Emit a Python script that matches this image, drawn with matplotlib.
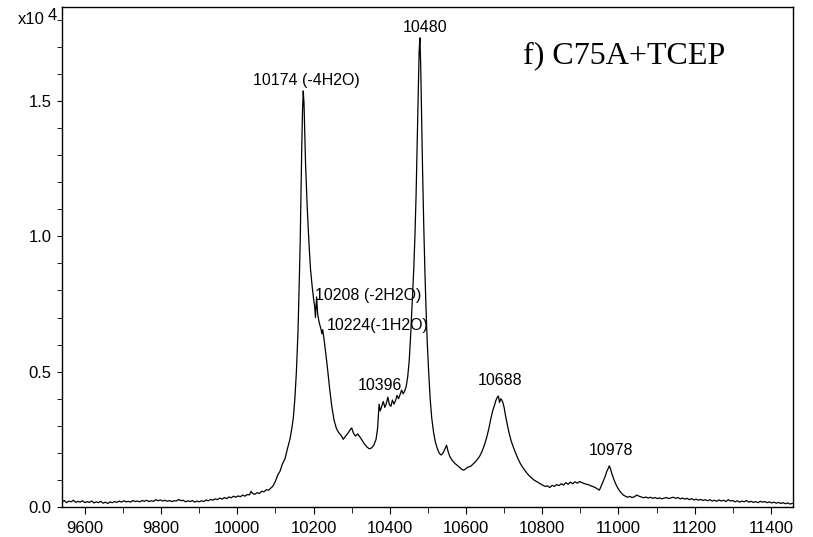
import matplotlib
matplotlib.use("Agg")
import matplotlib.pyplot as plt
from matplotlib.ticker import MultipleLocator, FormatStrFormatter

# deconvoluted mass spectrum, intensity in units of 1e4
mz = [
    9540, 9546, 9552, 9558, 9564, 9570, 9576, 9582, 9588, 9594,
    9600, 9606, 9612, 9618, 9624, 9630, 9636, 9642, 9648, 9654,
    9660, 9666, 9672, 9678, 9684, 9690, 9696, 9702, 9708, 9714,
    9720, 9726, 9732, 9738, 9744, 9750, 9756, 9762, 9768, 9774,
    9780, 9786, 9792, 9798, 9804, 9810, 9816, 9822, 9828, 9834,
    9840, 9846, 9852, 9858, 9864, 9870, 9876, 9882, 9888, 9894,
    9900, 9906, 9912, 9918, 9924, 9930, 9936, 9942, 9948, 9954,
    9960, 9966, 9972, 9978, 9984, 9990, 9996, 10002, 10008, 10014,
    10020, 10026, 10032, 10036, 10040, 10046, 10052, 10058, 10064, 10070,
    10076, 10082, 10088, 10093, 10100, 10106, 10112, 10118, 10125, 10132,
    10138, 10143, 10147, 10151, 10155, 10159, 10162, 10165, 10167, 10169,
    10171, 10173, 10175, 10177, 10179, 10181, 10183, 10186, 10189, 10192,
    10196, 10200, 10203, 10205, 10208, 10211, 10215, 10219, 10222, 10224,
    10227, 10231, 10236, 10242, 10248, 10254, 10260, 10266, 10272, 10278,
    10284, 10290, 10296, 10300, 10305, 10310, 10316, 10322, 10328, 10334,
    10340, 10346, 10352, 10358, 10364, 10368, 10372, 10375, 10379, 10383,
    10387, 10391, 10395, 10399, 10403, 10407, 10411, 10415, 10419, 10423,
    10427, 10431, 10435, 10439, 10443, 10447, 10451, 10455, 10459, 10463,
    10466, 10469, 10472, 10475, 10477, 10479, 10481, 10483, 10486, 10489,
    10492, 10495, 10498, 10502, 10506, 10510, 10515, 10520, 10525, 10530,
    10535, 10540, 10545, 10549, 10553, 10558, 10564, 10570, 10576, 10582,
    10588, 10594, 10600, 10606, 10612, 10618, 10624, 10630, 10636, 10642,
    10648, 10654, 10660, 10665, 10670, 10674, 10678, 10682, 10685, 10688,
    10691, 10694, 10697, 10700, 10704, 10709, 10714, 10719, 10724, 10730,
    10736, 10742, 10748, 10754, 10760, 10766, 10772, 10778, 10784, 10790,
    10796, 10802, 10808, 10814, 10820, 10826, 10832, 10838, 10844, 10850,
    10856, 10862, 10868, 10874, 10880, 10886, 10892, 10898, 10904, 10910,
    10916, 10922, 10928, 10934, 10940, 10946, 10950, 10955, 10960, 10965,
    10969, 10973, 10976, 10978, 10981, 10984, 10988, 10992, 10996, 11000,
    11005, 11010, 11014, 11018, 11024, 11030, 11036, 11042, 11048, 11054,
    11060, 11066, 11072, 11078, 11084, 11090, 11096, 11102, 11108, 11114,
    11120, 11126, 11132, 11138, 11144, 11150, 11156, 11162, 11168, 11174,
    11180, 11186, 11192, 11198, 11204, 11210, 11216, 11222, 11228, 11234,
    11240, 11246, 11252, 11258, 11264, 11270, 11276, 11282, 11288, 11294,
    11300, 11306, 11312, 11318, 11324, 11330, 11336, 11342, 11348, 11354,
    11360, 11366, 11372, 11378, 11384, 11390, 11396, 11402, 11408, 11414,
    11420, 11426, 11432, 11438, 11444, 11450, 11456,
]
intensity = [
    0.018, 0.024, 0.016, 0.022, 0.019, 0.025, 0.017, 0.021, 0.018, 0.023,
    0.016, 0.020, 0.017, 0.022, 0.015, 0.019, 0.016, 0.021, 0.014, 0.018,
    0.013, 0.019, 0.016, 0.020, 0.017, 0.022, 0.018, 0.023, 0.019, 0.021,
    0.018, 0.024, 0.020, 0.022, 0.019, 0.024, 0.021, 0.025, 0.020, 0.023,
    0.021, 0.027, 0.023, 0.026, 0.022, 0.025, 0.021, 0.024, 0.020, 0.023,
    0.022, 0.028, 0.023, 0.025, 0.019, 0.023, 0.020, 0.024, 0.018, 0.022,
    0.019, 0.023, 0.020, 0.026, 0.023, 0.028, 0.025, 0.030, 0.027, 0.033,
    0.029, 0.035, 0.031, 0.037, 0.034, 0.040, 0.036, 0.041, 0.038, 0.044,
    0.040, 0.046, 0.045, 0.058, 0.050, 0.047, 0.053, 0.050, 0.058, 0.056,
    0.064, 0.062, 0.070, 0.076, 0.095, 0.118, 0.132, 0.158, 0.178, 0.218,
    0.250, 0.290, 0.330, 0.400, 0.500, 0.640, 0.800, 0.980, 1.150, 1.320,
    1.460, 1.537, 1.490, 1.380, 1.270, 1.190, 1.120, 1.030, 0.950, 0.880,
    0.820, 0.770, 0.740, 0.700, 0.776, 0.710, 0.680, 0.660, 0.640, 0.655,
    0.625, 0.580, 0.520, 0.440, 0.370, 0.320, 0.290, 0.275, 0.265, 0.250,
    0.262, 0.272, 0.285, 0.292, 0.272, 0.262, 0.270, 0.258, 0.245, 0.232,
    0.222, 0.215, 0.218, 0.228, 0.250, 0.290, 0.380, 0.355, 0.372, 0.390,
    0.368, 0.382, 0.406, 0.378, 0.372, 0.395, 0.380, 0.392, 0.412, 0.400,
    0.415, 0.432, 0.418, 0.428, 0.445, 0.480, 0.540, 0.640, 0.760, 0.880,
    1.000, 1.150, 1.350, 1.550, 1.680, 1.733, 1.640, 1.480, 1.250, 1.050,
    0.880, 0.740, 0.620, 0.500, 0.400, 0.330, 0.275, 0.238, 0.215, 0.198,
    0.192, 0.200, 0.215, 0.228, 0.205, 0.185, 0.172, 0.162, 0.155, 0.148,
    0.140, 0.136, 0.142, 0.148, 0.150, 0.158, 0.166, 0.176, 0.188, 0.205,
    0.228, 0.255, 0.290, 0.325, 0.355, 0.372, 0.392, 0.405, 0.410, 0.386,
    0.400, 0.395, 0.385, 0.368, 0.335, 0.300, 0.268, 0.242, 0.222, 0.200,
    0.180, 0.162, 0.148, 0.136, 0.125, 0.115, 0.108, 0.100, 0.095, 0.090,
    0.085, 0.080, 0.076, 0.078, 0.072, 0.080, 0.076, 0.083, 0.079, 0.086,
    0.081, 0.090, 0.084, 0.092, 0.086, 0.093, 0.088, 0.094, 0.090, 0.087,
    0.084, 0.082, 0.078, 0.075, 0.071, 0.066, 0.062, 0.078, 0.095, 0.112,
    0.130, 0.142, 0.152, 0.146, 0.132, 0.118, 0.102, 0.088, 0.076, 0.066,
    0.056, 0.048, 0.043, 0.040, 0.036, 0.039, 0.035, 0.038, 0.044, 0.040,
    0.037, 0.034, 0.037, 0.033, 0.036, 0.032, 0.035, 0.031, 0.034, 0.030,
    0.033, 0.035, 0.031, 0.034, 0.036, 0.032, 0.035, 0.030, 0.033, 0.029,
    0.032, 0.027, 0.031, 0.026, 0.029, 0.025, 0.028, 0.024, 0.027, 0.023,
    0.027, 0.022, 0.025, 0.021, 0.026, 0.022, 0.025, 0.020, 0.027, 0.022,
    0.024, 0.019, 0.023, 0.018, 0.022, 0.019, 0.024, 0.018, 0.021, 0.017,
    0.020, 0.016, 0.021, 0.018, 0.020, 0.016, 0.019, 0.015, 0.018, 0.014,
    0.017, 0.013, 0.016, 0.012, 0.015, 0.011, 0.013,
]

# peak annotations: text, left edge (m/z), vertical centre (1e4 counts)
peak_labels = ["10174 (-4H2O)", "10208 (-2H2O)", "10224(-1H2O)", "10396",
               "10480", "10688", "10978"]
label_x = [10041, 10204, 10235, 10317, 10435, 10632, 10923]
label_y = [1.577, 0.783, 0.669, 0.45, 1.77, 0.469, 0.21]

plt.rcParams['font.family'] = ['Liberation Sans', 'DejaVu Sans']

fig = plt.figure(figsize=(8.13, 5.37), dpi=100)
ax = fig.add_axes([62 / 813, 30 / 537, 731 / 813, 500 / 537])

ax.plot(mz, intensity, color='black', linewidth=0.9)

for text, x, y in zip(peak_labels, label_x, label_y):
    ax.text(x, y, text, fontsize=11.5, ha='left', va='center')

ax.text(10750, 1.640, 'f) C75A+TCEP', fontsize=23, ha='left', va='baseline',
        family=['Liberation Serif', 'DejaVu Serif'])

ax.set_xlim(9540, 11458)
ax.set_ylim(0, 1.847)
ax.xaxis.set_major_locator(MultipleLocator(200))
ax.xaxis.set_minor_locator(MultipleLocator(100))
ax.yaxis.set_major_locator(MultipleLocator(0.5))
ax.yaxis.set_minor_locator(MultipleLocator(0.1))
ax.yaxis.set_major_formatter(FormatStrFormatter('%.1f'))
ax.tick_params(axis='both', which='both', direction='out', labelsize=12,
               top=False, right=False)
ax.tick_params(axis='x', which='major', length=5, pad=5)
ax.tick_params(axis='x', which='minor', length=4)
ax.tick_params(axis='y', which='both', length=3.5, pad=4)
for spine in ax.spines.values():
    spine.set_linewidth(1.0)

fig.text(18 / 813, 1 - 20 / 537, 'x10', fontsize=12, ha='left', va='center')
fig.text(48 / 813, 1 - 15 / 537, '4', fontsize=12, ha='left', va='center')

fig.savefig('out.png', dpi=100)
